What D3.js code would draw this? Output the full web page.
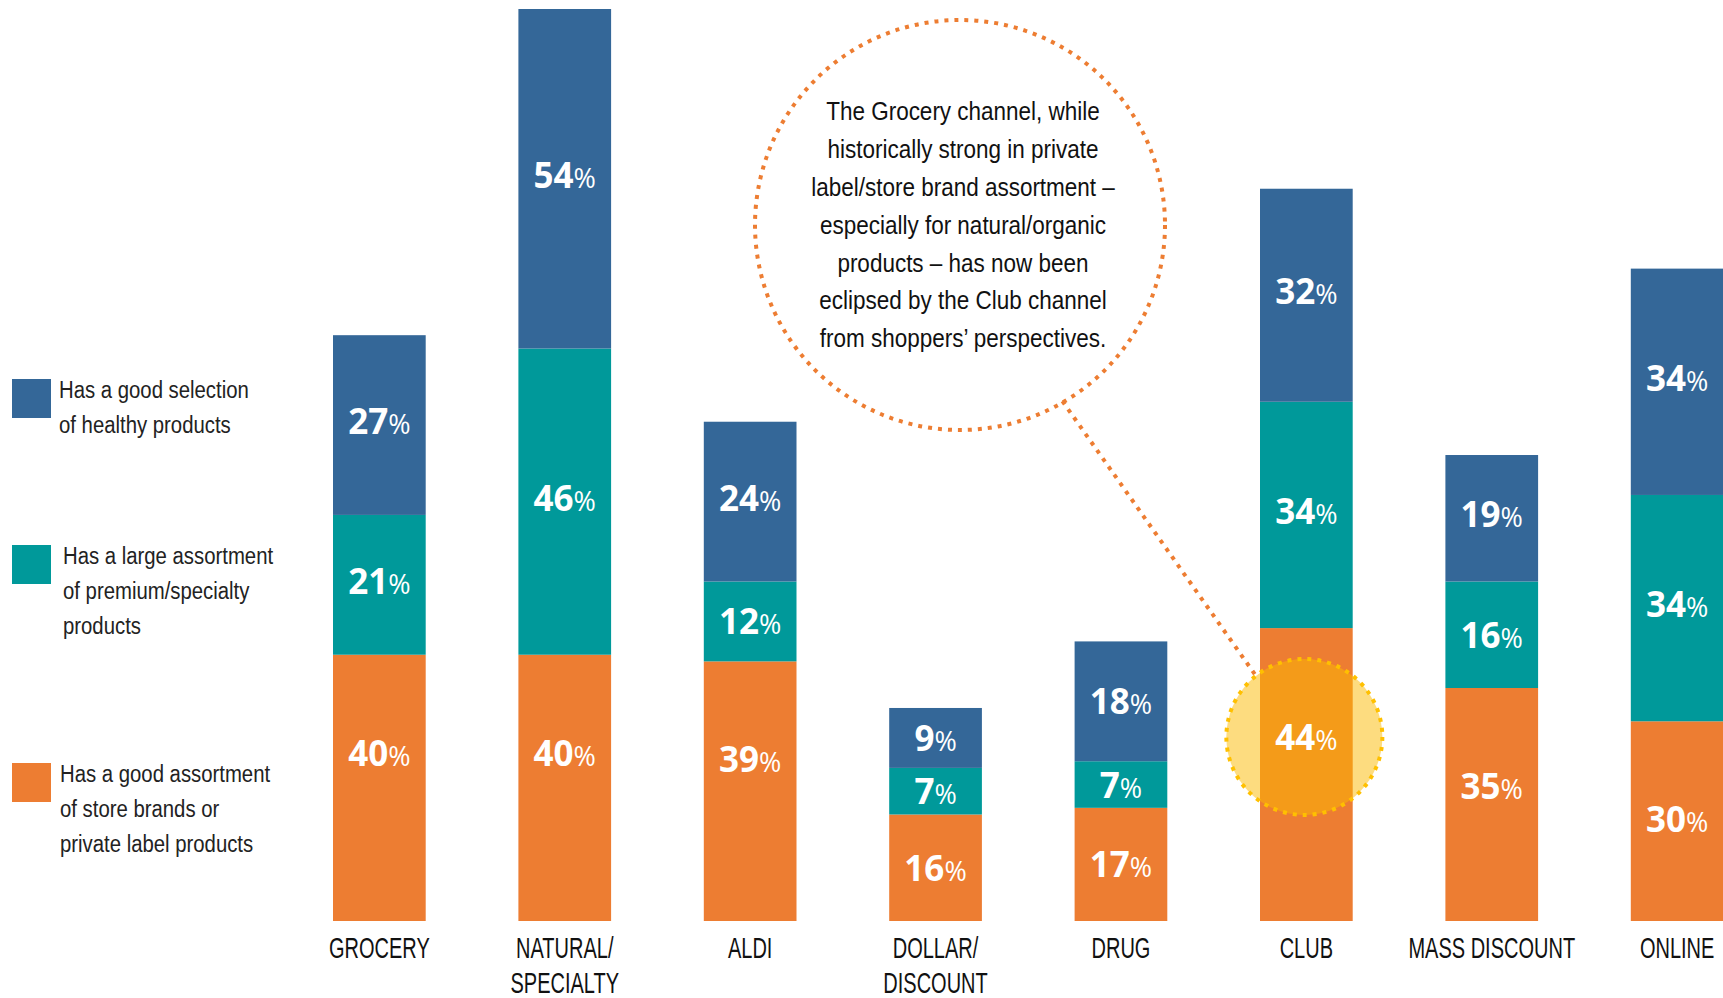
<!DOCTYPE html>
<html>
<head>
<meta charset="utf-8">
<script src="https://cdn.jsdelivr.net/npm/d3@7"></script>
<style>
  body { margin: 0; background: #fff; overflow: hidden; }
  .narrow { font-family: "Liberation Sans", Arial, sans-serif; }
  .pct { font-family: "Open Sans", "DejaVu Sans", sans-serif; fill: #fff; }
</style>
</head>
<body>
<div id="chart"></div>
<script>
"use strict";

// channels, bottom to top: store brands, premium, healthy
var categories = ["GROCERY", "NATURAL/\nSPECIALTY", "ALDI", "DOLLAR/\nDISCOUNT", "DRUG", "CLUB", "MASS DISCOUNT", "ONLINE"];
var storeBrand = [40, 40, 39, 16, 17, 44, 35, 30];
var premium    = [21, 46, 12,  7,  7, 34, 16, 34];
var healthy    = [27, 54, 24,  9, 18, 32, 19, 34];

var seriesKeys = ["storeBrand", "premium", "healthy"];
var seriesColors = { storeBrand: "#ed7d32", premium: "#00999a", healthy: "#346798" };
var legendLabels = [
  { key: "healthy", lines: ["Has a good selection", "of healthy products"] },
  { key: "premium", lines: ["Has a large assortment", "of premium/specialty", "products"] },
  { key: "storeBrand", lines: ["Has a good assortment", "of store brands or", "private label products"] }
];

var note = [
  "The Grocery channel, while",
  "historically strong in private",
  "label/store brand assortment \u2013",
  "especially for natural/organic",
  "products \u2013 has now been",
  "eclipsed by the Club channel",
  "from shoppers\u2019 perspectives."
];
var highlightCategory = "CLUB";

var W = 1723, H = 998;

var rows = categories.map(function (c, i) {
  return { cat: c, storeBrand: storeBrand[i], premium: premium[i], healthy: healthy[i] };
});

var svg = d3.select("#chart").append("svg")
  .attr("width", W).attr("height", H);

// squeezed text, the original uses a narrow face
var narrowText = function (parent, x, y, lines, size, sx, anchor, lh, color) {
  var g = parent.append("g")
    .attr("transform", "translate(" + x + "," + y + ") scale(" + sx + ",1)");
  var t = g.append("text")
    .attr("class", "narrow")
    .attr("font-size", size)
    .attr("fill", color)
    .attr("text-anchor", anchor);
  lines.forEach(function (line, j) {
    t.append("tspan").attr("x", 0).attr("dy", j == 0 ? 0 : lh).text(line);
  });
  return g;
};

var x = d3.scaleBand()
  .domain(categories)
  .range([333, 1723.5])
  .paddingInner(0.5)
  .paddingOuter(0)
  .align(0);

var y = d3.scaleLinear()
  .domain([0, 137])
  .range([921, 9])
  .clamp(true);

var stacked = d3.stack().keys(seriesKeys)(rows);

var layers = svg.selectAll(".layer")
  .data(stacked)
  .enter().append("g")
  .attr("class", "layer")
  .attr("fill", function (d) { return seriesColors[d.key]; });

layers.selectAll("rect")
  .data(function (d) { return d; })
  .enter().append("rect")
  .attr("x", function (d) { return x(d.data.cat); })
  .attr("y", function (d) { return y(d[1]); })
  .attr("width", x.bandwidth())
  .attr("height", function (d) { return y(d[0]) - y(d[1]); });

// highlight circle on the club store-brand segment
var hx = x(highlightCategory) + x.bandwidth() / 2 - 2;
var hy = 737, hr = 78;
var bx = 960, by = 225, br = 205;

svg.append("circle")
  .attr("cx", hx).attr("cy", hy).attr("r", hr)
  .attr("fill", "#fbb900").attr("fill-opacity", 0.5)
  .attr("stroke", "#ffc000").attr("stroke-width", 4)
  .attr("stroke-dasharray", "4,6");

// value labels
var labels = svg.append("g");
stacked.forEach(function (layer) {
  labels.selectAll(".pct_" + layer.key)
    .data(layer)
    .enter().append("text")
    .attr("class", "pct")
    .attr("text-anchor", "middle")
    .attr("x", function (d) { return x(d.data.cat) + x.bandwidth() / 2; })
    .attr("y", function (d) {
      if (layer.key == "storeBrand" && d.data.cat == highlightCategory) return hy + 13;
      var top = y(d[1]);
      var mid = (y(d[0]) + top) / 2;
      if (layer.key == "storeBrand") mid = Math.min(mid, top + 98);
      else if (mid - top > 60) mid -= 4;
      return mid + 13;
    })
    .each(function (d) {
      var t = d3.select(this);
      t.append("tspan").attr("font-size", 35).attr("font-weight", 700).text(d.data[layer.key]);
      t.append("tspan").attr("font-size", 27).attr("font-weight", 400).text("%");
    });
});

// category labels
categories.forEach(function (c) {
  narrowText(svg, x(c) + x.bandwidth() / 2, 958, c.split("\n"), 29, 0.69, "middle", 35, "#111");
});

// legend
var legendTop = [379, 545, 763];
var legendTextX = [59, 63, 60];
legendLabels.forEach(function (l, i) {
  svg.append("rect")
    .attr("x", 12).attr("y", legendTop[i])
    .attr("width", 39).attr("height", 39)
    .attr("fill", seriesColors[l.key]);
  narrowText(svg, legendTextX[i], legendTop[i] + 19, l.lines, 24.5, 0.83, "start", 35, "#222");
});

// annotation bubble
svg.append("circle")
  .attr("cx", bx).attr("cy", by).attr("r", br)
  .attr("fill", "none")
  .attr("stroke", "#ed7d32").attr("stroke-width", 4)
  .attr("stroke-dasharray", "4,6");

var dx = hx - bx, dy = hy - by, len = Math.sqrt(dx * dx + dy * dy);
svg.append("line")
  .attr("x1", bx + br * dx / len - 12).attr("y1", by + br * dy / len + 6)
  .attr("x2", hx - hr * dx / len - 6).attr("y2", hy - hr * dy / len + 2)
  .attr("stroke", "#ed7d32").attr("stroke-width", 4)
  .attr("stroke-dasharray", "4,6");

narrowText(svg, 963, 120, note, 25, 0.9, "middle", 37.9, "#111");
</script>
</body>
</html>
